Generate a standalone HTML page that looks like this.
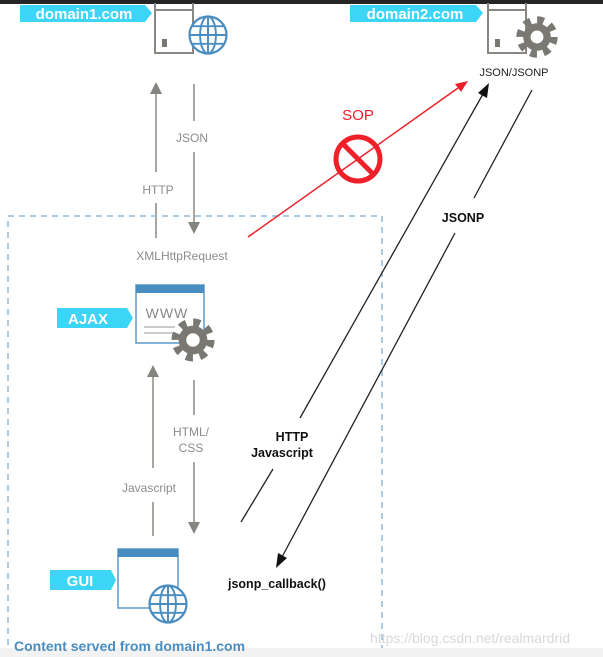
<!DOCTYPE html>
<html><head><meta charset="utf-8"><style>
html,body{margin:0;padding:0;background:#fff;}
svg{display:block;font-family:"Liberation Sans",sans-serif;}
</style></head><body>
<svg width="603" height="657" viewBox="0 0 603 657" xmlns="http://www.w3.org/2000/svg">
<defs>
<marker id="ag" markerWidth="10" markerHeight="10" refX="5" refY="8" orient="auto" markerUnits="userSpaceOnUse"><path d="M0,10 L5,0 L10,10Z" fill="#858580" transform="rotate(0)"/></marker>
<symbol id="gear" viewBox="-25 -25 50 50">
<circle r="15" fill="#7a7873"/>
<circle r="18" fill="none" stroke="#7a7873" stroke-width="9" stroke-dasharray="7.07 7.07"/>
<circle r="7" fill="#fff"/>
</symbol>
<symbol id="globe" viewBox="-25 -25 50 50">
<circle r="21" fill="#fff" stroke="#4a8dc0" stroke-width="2.5"/>
<ellipse rx="9" ry="21" fill="none" stroke="#4a8dc0" stroke-width="2.2"/>
<line x1="0" y1="-21" x2="0" y2="21" stroke="#4a8dc0" stroke-width="2.2"/>
<line x1="-21" y1="0" x2="21" y2="0" stroke="#4a8dc0" stroke-width="2.2"/>
<line x1="-18" y1="-10" x2="18" y2="-10" stroke="#4a8dc0" stroke-width="2.2"/>
<line x1="-18" y1="10" x2="18" y2="10" stroke="#4a8dc0" stroke-width="2.2"/>
</symbol>
</defs>
<rect x="0" y="0" width="603" height="4" fill="#262626"/>

<!-- domain1 -->
<path d="M20,5 H145 L152,13 L145,22 H20Z" fill="#3cd5f7"/>
<text x="84" y="19" text-anchor="middle" font-size="15" font-weight="bold" fill="#fff">domain1.com</text>
<path d="M155,3 V53 H193 V3" fill="none" stroke="#8a8782" stroke-width="2"/>
<line x1="155" y1="10" x2="193" y2="10" stroke="#8a8782" stroke-width="2"/>
<rect x="162" y="39" width="5" height="8" fill="#7a7873"/>
<use href="#globe" x="186" y="13" width="44" height="44"/>

<!-- domain2 -->
<path d="M350,5 H476 L483,13 L476,22 H350Z" fill="#3cd5f7"/>
<text x="415" y="19" text-anchor="middle" font-size="15" font-weight="bold" fill="#fff">domain2.com</text>
<path d="M488,3 V53 H526 V3" fill="none" stroke="#8a8782" stroke-width="2"/>
<line x1="488" y1="10" x2="526" y2="10" stroke="#8a8782" stroke-width="2"/>
<rect x="495" y="39" width="5" height="8" fill="#7a7873"/>
<use href="#gear" x="514" y="14" width="46" height="46"/>
<text x="514" y="76" text-anchor="middle" font-size="11" fill="#222">JSON/JSONP</text>

<!-- top gray arrows -->
<g stroke="#a8a6a1" stroke-width="2">
<line x1="156" y1="90" x2="156" y2="172"/>
<line x1="156" y1="203" x2="156" y2="238"/>
<line x1="194" y1="84" x2="194" y2="121"/>
<line x1="194" y1="152" x2="194" y2="222"/>
<line x1="153" y1="372" x2="153" y2="468"/>
<line x1="153" y1="502" x2="153" y2="536"/>
<line x1="194" y1="380" x2="194" y2="415"/>
<line x1="194" y1="462" x2="194" y2="522"/>
</g>
<path d="M150,94 L156,82 L162,94Z" fill="#858580"/>
<path d="M188,222 L194,234 L200,222Z" fill="#858580"/>
<path d="M147,377 L153,365 L159,377Z" fill="#858580"/>
<path d="M188,522 L194,534 L200,522Z" fill="#858580"/>
<g font-size="12" fill="#8e8c88" text-anchor="middle">
<text x="192" y="142">JSON</text>
<text x="158" y="194">HTTP</text>
<text x="182" y="260">XMLHttpRequest</text>
<text x="191" y="436">HTML/</text>
<text x="191" y="452">CSS</text>
<text x="149" y="492">Javascript</text>
</g>

<!-- dashed box -->
<rect x="8" y="216" width="374" height="440" fill="none" stroke="#8fb8da" stroke-width="1.5" stroke-dasharray="6 5"/>

<!-- AJAX -->
<path d="M57,308 H127 L133,318 L127,328 H57Z" fill="#3cd5f7"/>
<text x="88" y="324" text-anchor="middle" font-size="15" font-weight="bold" fill="#fff">AJAX</text>
<rect x="136" y="285" width="68" height="58" fill="#fff" stroke="#5d98c8" stroke-width="1.5"/>
<rect x="136" y="285" width="68" height="8" fill="#4a8dc0"/>
<text x="167" y="318" text-anchor="middle" font-size="14" fill="#888" letter-spacing="1">WWW</text>
<line x1="144" y1="327" x2="175" y2="327" stroke="#bbb" stroke-width="1.5"/>
<line x1="144" y1="333" x2="175" y2="333" stroke="#bbb" stroke-width="1.5"/>
<use href="#gear" x="169" y="316" width="48" height="48"/>

<!-- GUI -->
<path d="M50,570 H111 L116,580 L111,590 H50Z" fill="#3cd5f7"/>
<text x="80" y="586" text-anchor="middle" font-size="15" font-weight="bold" fill="#fff">GUI</text>
<rect x="118" y="549" width="60" height="59" fill="#fff" stroke="#5d98c8" stroke-width="1.5"/>
<rect x="118" y="549" width="60" height="8" fill="#4a8dc0"/>
<use href="#globe" x="146" y="582" width="44" height="44"/>
<text x="228" y="588" font-size="12.5" font-weight="bold" fill="#111">jsonp_callback()</text>

<!-- red SOP -->
<line x1="248" y1="237" x2="458" y2="88" stroke="#f0202a" stroke-width="1.5"/>
<path d="M468,81 L455,84 L461,92Z" fill="#f0202a"/>
<text x="358" y="120" text-anchor="middle" font-size="15" fill="#f0202a">SOP</text>
<circle cx="358" cy="159" r="22" fill="none" stroke="#f0202a" stroke-width="5"/>
<line x1="343" y1="144" x2="373" y2="174" stroke="#f0202a" stroke-width="5"/>

<!-- black arrows -->
<g stroke="#222" stroke-width="1.3">
<line x1="241" y1="522" x2="273" y2="469"/>
<line x1="300" y1="418" x2="483" y2="94"/>
<line x1="532" y1="90" x2="474" y2="198"/>
<line x1="455" y1="233" x2="282" y2="557"/>
</g>
<path d="M489,83 L478,93 L487,98Z" fill="#111"/>
<path d="M276,568 L278,553 L287,558Z" fill="#111"/>
<text x="292" y="441" text-anchor="middle" font-size="12.5" font-weight="bold" fill="#111">HTTP</text>
<text x="282" y="457" text-anchor="middle" font-size="12.5" font-weight="bold" fill="#111">Javascript</text>
<text x="463" y="222" text-anchor="middle" font-size="12.5" font-weight="bold" fill="#111">JSONP</text>

<!-- footer -->
<rect x="0" y="648" width="603" height="9" fill="#f2f2f2"/>
<text x="14" y="651" font-size="14" font-weight="bold" fill="#4a8dc0">Content served from domain1.com</text>
<text x="370" y="643" font-size="14" fill="#d8d8d8">https://blog.csdn.net/realmardrid</text>
</svg>
</body></html>
